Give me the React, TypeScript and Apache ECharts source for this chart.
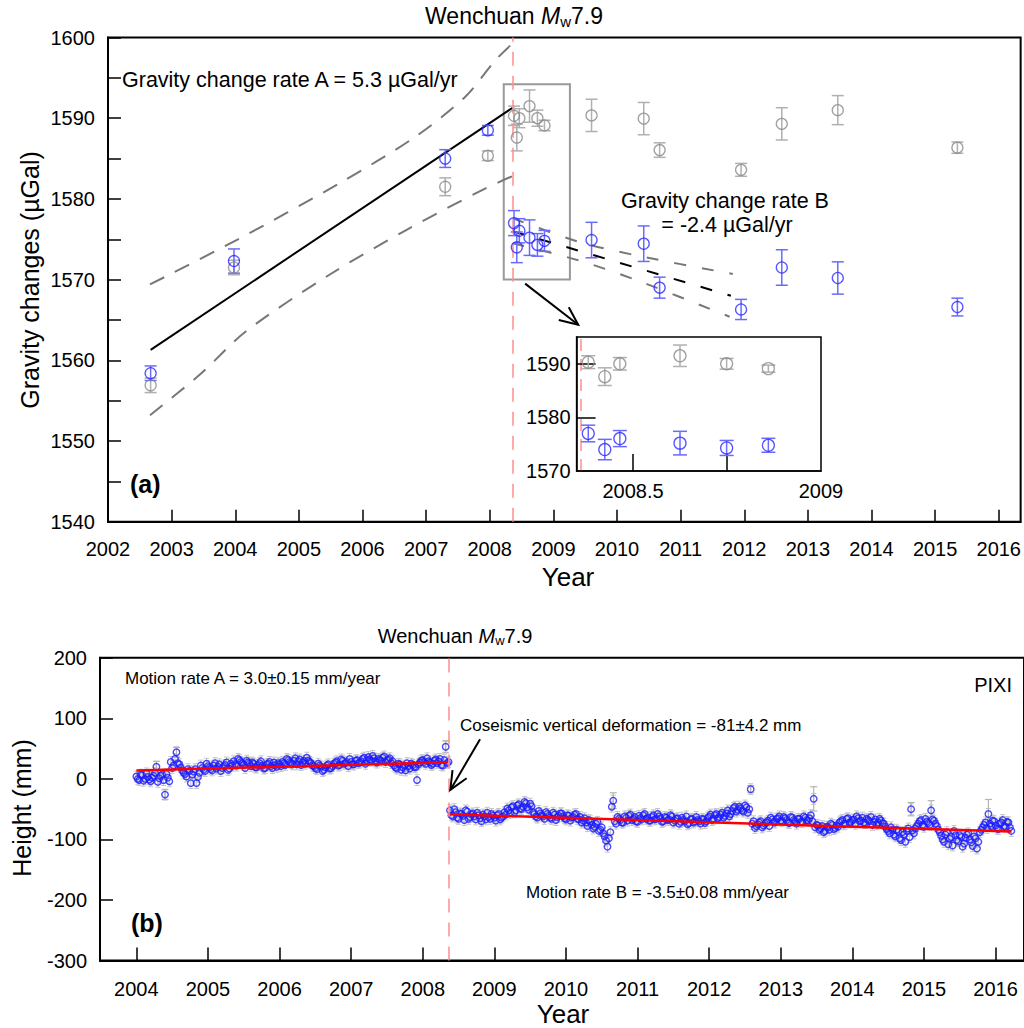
import React, { useEffect, useRef } from 'react';
import * as echarts from 'echarts';

const FONT = "'Liberation Sans', Arial, Helvetica, sans-serif";

// ---------- Panel (a): gravity changes ----------
const eqYear = 2008.36;
const topYears = [2002, 2003, 2004, 2005, 2006, 2007, 2008, 2009, 2010, 2011, 2012, 2013, 2014, 2015, 2016];
const gravityTicks = [1540, 1545, 1550, 1555, 1560, 1565, 1570, 1575, 1580, 1585, 1590, 1595, 1600];
const gravityLabels = [1540, 1550, 1560, 1570, 1580, 1590, 1600];

// [year, value (µGal), error]
const gravityBlue = [
  [2002.67, 1558.4, 0.9],
  [2003.98, 1572.3, 1.5],
  [2007.3, 1585.0, 1.1],
  [2007.97, 1588.5, 0.6],
  [2008.381, 1577.0, 1.55],
  [2008.425, 1574.0, 1.9],
  [2008.465, 1576.05, 1.5],
  [2008.625, 1575.2, 2.2],
  [2008.749, 1574.3, 1.4],
  [2008.86, 1574.8, 1.3],
  [2009.6, 1574.9, 2.2],
  [2010.42, 1574.45, 2.2],
  [2010.67, 1569.0, 1.3],
  [2011.95, 1566.3, 1.25],
  [2012.59, 1571.5, 2.2],
  [2013.47, 1570.2, 2.0],
  [2015.35, 1566.6, 1.1],
];
const gravityGray = [
  [2002.67, 1556.9, 0.9],
  [2003.98, 1571.5, 0.9],
  [2007.3, 1581.5, 1.1],
  [2007.97, 1585.35, 0.6],
  [2008.381, 1590.3, 1.2],
  [2008.425, 1587.6, 1.65],
  [2008.465, 1590.0, 1.17],
  [2008.625, 1591.5, 2.0],
  [2008.749, 1590.0, 1.0],
  [2008.86, 1589.1, 0.65],
  [2009.6, 1590.35, 2.0],
  [2010.42, 1589.95, 2.0],
  [2010.67, 1586.05, 0.9],
  [2011.95, 1583.6, 0.8],
  [2012.59, 1589.3, 2.0],
  [2013.47, 1591.0, 1.8],
  [2015.35, 1586.35, 0.7],
];

const fitA = [[2002.67, 1561.3], [2008.36, 1591.3]];
const bandAUpper = [[2002.66, 1569.4], [2004.02, 1574.9], [2005.63, 1581.9], [2006.83, 1587.7], [2007.62, 1592.7], [2008.09, 1597.2], [2008.35, 1599.2]];
const bandALower = [[2002.66, 1553.2], [2003.44, 1558.2], [2004.17, 1563.6], [2005.48, 1570.6], [2006.68, 1576.1], [2007.88, 1581.1], [2008.35, 1582.8]];
const fitB = [[2008.36, 1576.0], [2011.79, 1568.0]];
const bandBUpper = [[2008.36, 1577.6], [2009.39, 1574.7], [2010.3, 1573.0], [2011.82, 1570.7]];
const bandBLower = [[2008.36, 1574.5], [2009.39, 1572.4], [2010.3, 1569.95], [2011.77, 1565.4]];
const zoomBox = [[2008.22, 1594.2], [2009.26, 1570.0]];
const topArrow = [[2008.556, 1569.5, 2009.39, 1564.4]];

// inset
const insetXTicks = [2008.5, 2008.75];
const insetXLabels = [2008.5, 2009];
const insetYTicks = [1580, 1590];
const insetYLabels = [1570, 1580, 1590];

// ---------- Panel (b): GPS height, station PIXI ----------
const bottomYears = [2004, 2005, 2006, 2007, 2008, 2009, 2010, 2011, 2012, 2013, 2014, 2015, 2016];
const gpsStep = 0.04;
const gpsPreStart = 2004.0;
const gpsPre = [
  4, -2, 6, 0, 3, -4, 5, 20, 1, 7,
  -26, 2, 28, 22, 44, 24, 14, 8, 16, -7,
  12, -7, 10, 18, 13, 21, 16, 22, 17, 24,
  18, 23, 15, 25, 29, 22, 31, 26, 18, 27,
  21, 25, 19, 26, 22, 18, 25, 21, 27, 20,
  24, 28, 23, 31, 26, 30, 24, 32, 27, 25,
  30, 26, 21, 16, 22, 13, 19, 24, 18, 25,
  29, 23, 30, 26, 21, 28, 24, 31, 27, 33,
  25, 36, 30, 34, 27, 31, 35, 28, 32, 26,
  22, 17, 24, 19, 14, 21, 25, 20, -2, 27,
  31, 25, 29, 23, 30, 26, 33, 22, 53, 28,
];
const gpsPre2Start = 2004.02;
const gpsPre2 = [
  0, 7, -3, 9, -1, 2, 10, -5, 5, -2, 8, -4,
  18, 33, 26,
  19, 10, 4, 13, 7, 16, 3,
  22, 15, 25, 19, 14, 26, 20, 13, 21, 27, 17, 22,
  24, 33, 28, 23, 30, 25,
  27, 19, 23, 29, 17, 24, 28, 18, 23, 26, 21,
  26, 33, 28, 24, 34, 29, 23, 30, 35, 28, 22,
  18, 25, 20, 15, 22, 17, 21,
  27, 22, 32, 25, 28, 33, 24, 30, 26, 29, 35, 31,
  32, 38, 29, 33, 30, 37, 31, 34, 29,
  19, 25, 15, 22, 26, 17, 23, 19,
  24, 30, 28, 34, 27, 25, 32, 29, 23, 31, 26,
];
const gpsPostStart = 2008.38;
const gpsPost = [
  -52, -62, -55, -66, -58, -68, -54, -63, -57, -67,
  -60, -70, -62, -56, -66, -61, -69, -58, -64, -55,
  -49, -56, -45, -52, -42, -50, -38, -47, -41, -55,
  -62, -53, -60, -66, -58, -64, -56, -68, -61, -57,
  -65, -60, -69, -63, -58, -67, -72, -65, -78, -70,
  -82, -74, -86, -80, -95, -112, -88, -36, -74, -66,
  -72, -62, -69, -59, -66, -70, -61, -67, -58, -64,
  -69, -60, -66, -62, -71, -63, -68, -60, -72, -66,
  -74, -64, -70, -75, -67, -72, -63, -70, -66, -73,
  -64, -59, -66, -58, -63, -56, -61, -52, -58, -48,
  -54, -46, -52, -44, -56, -17, -70, -78, -72, -80,
  -74, -69, -64, -71, -66, -62, -70, -65, -72, -63,
  -68, -74, -66, -71, -64, -69, -60, -33, -76, -84,
  -78, -86, -80, -74, -83, -77, -72, -68, -74, -65,
  -71, -67, -62, -70, -64, -73, -68, -63, -71, -75,
  -66, -73, -79, -86, -80, -92, -84, -98, -88, -104,
  -82, -50, -90, -78, -70, -76, -66, -73, -52, -69,
  -78, -88, -100, -92, -108, -96, -86, -101, -93, -112,
  -97, -90, -105, -95, -115, -88, -80, -72, -58, -78,
  -70, -82, -74, -68, -79, -72, -86,
];
const gpsPost2Start = 2008.4;
const gpsPost2 = [
  -60, -50, -64, -57, -61, -52, -66, -59,
  -62, -56, -65, -59, -67, -63, -58, -64, -60, -67, -62, -59,
  -52, -47, -55, -44, -49, -46, -40, -51, -45,
  -58, -64, -57, -62, -55, -61, -66, -59, -63, -57, -62, -67, -61, -64, -59, -66, -63, -69,
  -72, -68, -76, -79, -71, -84, -90, -102, -98,
  -46, -70, -63, -68, -72, -64, -61, -68, -63, -71, -65, -60, -66, -69, -63, -67, -58, -65, -70, -64, -67, -62,
  -69, -65, -71, -68, -62, -73, -66, -70, -68, -74, -67, -70,
  -62, -68, -60, -65, -59, -64, -57, -62,
  -53, -46, -51, -49, -54, -47, -50,
  -74, -81, -75, -70, -77, -72, -78,
  -67, -72, -65, -69, -63, -68, -73, -64, -70, -66, -71, -62, -68, -65, -70,
  -80, -77, -82, -88, -79, -84, -76, -81, -79,
  -70, -75, -66, -72, -68, -74, -65, -69, -72, -66, -70, -76, -67, -72, -69, -74,
  -83, -90, -84, -95, -87, -101, -92, -86, -96, -85, -82,
  -74, -68, -79, -71, -76, -67, -74,
  -84, -94, -104, -88, -99, -110, -93, -103, -96, -107, -92, -100, -111, -98, -104,
  -84, -76, -81, -74, -69, -77, -83, -72, -78, -71, -80,
];
const gpsError = 9;
// [year, mm, error] for points with large error bars
const gpsBigErr = [
  [2004.28, 20, 9], [2004.4, -26, 8], [2004.56, 44, 8], [2008.32, 53, 10],
  [2010.66, -36, 13], [2012.58, -17, 6], [2013.46, -33, 20], [2014.82, -50, 11],
  [2015.1, -52, 16], [2015.9, -58, 24],
];
const fitGpsA = [[2004.0, 13.7], [2008.36, 27.6]];
const fitGpsB = [[2008.36, -58.4], [2016.22, -87.0]];
const bottomArrow = [[2008.8, 65.6, 2008.385, -18.2]];

// ---------- helpers ----------
const errorBar = (color: string, cap: number, width: number) => (params: any, api: any) => {
  const x = api.value(0);
  const y = api.value(1);
  const e = api.value(2);
  const t = api.coord([x, y + e]);
  const b = api.coord([x, y - e]);
  const st = { stroke: color, lineWidth: width };
  return {
    type: 'group',
    children: [
      { type: 'line', shape: { x1: t[0], y1: t[1], x2: b[0], y2: b[1] }, style: st },
      { type: 'line', shape: { x1: t[0] - cap, y1: t[1], x2: t[0] + cap, y2: t[1] }, style: st },
      { type: 'line', shape: { x1: b[0] - cap, y1: b[1], x2: b[0] + cap, y2: b[1] }, style: st },
    ],
  };
};

const arrowItem = (params: any, api: any) => {
  const p1 = api.coord([api.value(0), api.value(1)]);
  const p2 = api.coord([api.value(2), api.value(3)]);
  const ang = Math.atan2(p2[1] - p1[1], p2[0] - p1[0]);
  const L = 20;
  const a = 0.42;
  const h1 = [p2[0] - L * Math.cos(ang - a), p2[1] - L * Math.sin(ang - a)];
  const h2 = [p2[0] - L * Math.cos(ang + a), p2[1] - L * Math.sin(ang + a)];
  return {
    type: 'group',
    children: [
      { type: 'line', shape: { x1: p1[0], y1: p1[1], x2: p2[0], y2: p2[1] }, style: { stroke: '#000', lineWidth: 2 } },
      { type: 'polyline', shape: { points: [h1, p2, h2] }, style: { stroke: '#000', lineWidth: 2, fill: 'none' } },
    ],
  };
};

const eqMarkLine = {
  silent: true,
  symbol: ['none', 'none'],
  label: { show: false },
  lineStyle: { color: '#ff8f8f', type: [14, 10], width: 1.5 },
  data: [{ xAxis: eqYear }],
};

const fmt = (v: number) => String(v);

const valueAxis = (extra: any) => ({
  type: 'value',
  splitLine: { show: false },
  axisLine: { onZero: false, lineStyle: { color: '#000', width: 2 } },
  ...extra,
});

const titleText = (size: number, sub: number, pad: number) => ({
  text: '{n|Wenchuan }{i|M}{s|w}{n|7.9}', align: 'center', verticalAlign: 'middle',
  rich: {
    n: { fontSize: size, fontFamily: FONT, fill: '#000' },
    i: { fontSize: size, fontFamily: FONT, fontStyle: 'italic', fill: '#000' },
    s: { fontSize: sub, fontFamily: FONT, fill: '#000', verticalAlign: 'bottom', padding: [pad, 0, 0, 0] },
  },
});

export default function App() {
  const ref = useRef<HTMLDivElement>(null);

  useEffect(() => {
    document.body.style.margin = '0';
    const chart = echarts.init(ref.current!, null, { renderer: 'svg' });

    const toPts = (vals: number[], start: number) => vals.map((v, i) => [start + i * gpsStep, v]);
    const gpsPts = toPts(gpsPre, gpsPreStart)
      .concat(toPts(gpsPre2, gpsPre2Start))
      .concat(toPts(gpsPost, gpsPostStart))
      .concat(toPts(gpsPost2, gpsPost2Start));
    const gpsErrPts = gpsPts.map((p) => [p[0], p[1], gpsError]);
    const insetBlue = gravityBlue.filter((d) => d[0] >= 2008.35 && d[0] <= 2009);
    const insetGray = gravityGray.filter((d) => d[0] >= 2008.35 && d[0] <= 2009);

    const blue = '#2a2aff';
    const blueErr = '#6a6aff';
    const grayPt = '#8a8a8a';
    const grayErr = '#b0b0b0';

    const tickLabel = { fontSize: 20, color: '#000', fontFamily: FONT, formatter: fmt };

    const option: any = {
      animation: false,
      backgroundColor: '#fff',
      grid: [
        { left: 108, top: 37.5, width: 916.5, height: 484.2, show: true, borderColor: '#000', borderWidth: 2, backgroundColor: 'rgba(0,0,0,0)' },
        { left: 576.6, top: 337, width: 244.4, height: 134, show: true, borderColor: '#000', borderWidth: 1.5, backgroundColor: '#fff', z: 5 },
        { left: 100, top: 657.8, width: 924.4, height: 302.7, show: true, borderColor: '#000', borderWidth: 2, backgroundColor: 'rgba(0,0,0,0)' },
      ],
      xAxis: [
        valueAxis({
          gridIndex: 0, min: 2002, max: 2016.344,
          axisTick: { inside: true, length: 12, customValues: topYears, lineStyle: { color: '#000', width: 1.5 } },
          axisLabel: { ...tickLabel, customValues: topYears, margin: 17 },
        }),
        valueAxis({
          gridIndex: 1, min: 2008.35, max: 2009, z: 6,
          axisLine: { onZero: false, lineStyle: { color: '#000', width: 1.5 } },
          axisTick: { inside: true, length: 17, customValues: insetXTicks, lineStyle: { color: '#000', width: 1.5 } },
          axisLabel: { ...tickLabel, customValues: insetXLabels, margin: 10 },
        }),
        valueAxis({
          gridIndex: 2, min: 2003.492, max: 2016.397,
          axisTick: { inside: true, length: 13, customValues: bottomYears, lineStyle: { color: '#000', width: 1.5 } },
          axisLabel: { ...tickLabel, customValues: bottomYears, margin: 18 },
        }),
      ],
      yAxis: [
        valueAxis({
          gridIndex: 0, min: 1540, max: 1600, interval: 10,
          axisTick: { inside: true, length: 13, customValues: gravityTicks, lineStyle: { color: '#000', width: 1.5 } },
          axisLabel: { ...tickLabel, customValues: gravityLabels, margin: 13 },
        }),
        valueAxis({
          gridIndex: 1, min: 1570, max: 1595, z: 6,
          axisLine: { onZero: false, lineStyle: { color: '#000', width: 1.5 } },
          axisTick: { inside: true, length: 19, customValues: insetYTicks, lineStyle: { color: '#000', width: 1.5 } },
          axisLabel: { ...tickLabel, customValues: insetYLabels, margin: 6 },
        }),
        valueAxis({
          gridIndex: 2, min: -300, max: 200, interval: 100,
          axisTick: { inside: true, length: 13, lineStyle: { color: '#000', width: 1.5 } },
          axisLabel: { ...tickLabel, margin: 13 },
        }),
      ],
      series: [
        // ----- panel (a)
        {
          type: 'line', name: 'fitA', xAxisIndex: 0, yAxisIndex: 0, data: fitA, symbol: 'none',
          lineStyle: { color: '#000', width: 2 }, z: 3,
          markLine: eqMarkLine,
          markArea: {
            silent: true,
            itemStyle: { color: 'rgba(0,0,0,0)', borderColor: '#999', borderWidth: 2 },
            data: [[{ coord: zoomBox[0] }, { coord: zoomBox[1] }]],
          },
        },
        { type: 'line', xAxisIndex: 0, yAxisIndex: 0, data: bandAUpper, symbol: 'none', smooth: 0.3, lineStyle: { color: '#777', width: 2, type: [16, 12] } },
        { type: 'line', xAxisIndex: 0, yAxisIndex: 0, data: bandALower, symbol: 'none', smooth: 0.3, lineStyle: { color: '#777', width: 2, type: [16, 12] } },
        { type: 'line', xAxisIndex: 0, yAxisIndex: 0, data: fitB, symbol: 'none', lineStyle: { color: '#000', width: 2, type: [12, 16] } },
        { type: 'line', xAxisIndex: 0, yAxisIndex: 0, data: bandBUpper, symbol: 'none', smooth: 0.3, lineStyle: { color: '#777', width: 2, type: [12, 16] } },
        { type: 'line', xAxisIndex: 0, yAxisIndex: 0, data: bandBLower, symbol: 'none', smooth: 0.3, lineStyle: { color: '#777', width: 2, type: [12, 16] } },
        { type: 'custom', xAxisIndex: 0, yAxisIndex: 0, data: gravityGray, renderItem: errorBar(grayErr, 6, 1.5), encode: { x: 0, y: 1 }, z: 4 },
        { type: 'custom', xAxisIndex: 0, yAxisIndex: 0, data: gravityBlue, renderItem: errorBar(blueErr, 6, 1.5), encode: { x: 0, y: 1 }, z: 4 },
        { type: 'scatter', xAxisIndex: 0, yAxisIndex: 0, data: gravityGray.map((d) => [d[0], d[1]]), symbol: 'circle', symbolSize: 11, itemStyle: { color: 'rgba(0,0,0,0)', borderColor: grayPt, borderWidth: 1.3 }, z: 5 },
        { type: 'scatter', xAxisIndex: 0, yAxisIndex: 0, data: gravityBlue.map((d) => [d[0], d[1]]), symbol: 'circle', symbolSize: 11, itemStyle: { color: 'rgba(0,0,0,0)', borderColor: blue, borderWidth: 1.3 }, z: 5 },
        { type: 'custom', xAxisIndex: 0, yAxisIndex: 0, data: topArrow, renderItem: arrowItem, encode: { x: 0, y: 1 }, z: 6 },
        // ----- inset
        { type: 'custom', xAxisIndex: 1, yAxisIndex: 1, data: insetGray, renderItem: errorBar(grayErr, 7, 1.5), encode: { x: 0, y: 1 }, z: 7, markLine: { ...eqMarkLine, lineStyle: { ...eqMarkLine.lineStyle, type: [12, 8] } } },
        { type: 'custom', xAxisIndex: 1, yAxisIndex: 1, data: insetBlue, renderItem: errorBar(blueErr, 7, 1.5), encode: { x: 0, y: 1 }, z: 7 },
        { type: 'scatter', xAxisIndex: 1, yAxisIndex: 1, data: insetGray.map((d) => [d[0], d[1]]), symbol: 'circle', symbolSize: 12, itemStyle: { color: 'rgba(0,0,0,0)', borderColor: grayPt, borderWidth: 1.3 }, z: 8 },
        { type: 'scatter', xAxisIndex: 1, yAxisIndex: 1, data: insetBlue.map((d) => [d[0], d[1]]), symbol: 'circle', symbolSize: 12, itemStyle: { color: 'rgba(0,0,0,0)', borderColor: blue, borderWidth: 1.3 }, z: 8 },
        // ----- panel (b)
        { type: 'custom', xAxisIndex: 2, yAxisIndex: 2, data: gpsErrPts, renderItem: errorBar('#c4c4c4', 2.5, 1), encode: { x: 0, y: 1 }, z: 2, markLine: eqMarkLine },
        { type: 'custom', xAxisIndex: 2, yAxisIndex: 2, data: gpsBigErr, renderItem: errorBar('#b4b4b4', 3.5, 1.2), encode: { x: 0, y: 1 }, z: 2 },
        { type: 'scatter', xAxisIndex: 2, yAxisIndex: 2, data: gpsPts, symbol: 'circle', symbolSize: 6.5, itemStyle: { color: 'rgba(0,0,0,0)', borderColor: '#1c1cff', borderWidth: 1.4 }, z: 3 },
        { type: 'line', xAxisIndex: 2, yAxisIndex: 2, data: fitGpsA, symbol: 'none', lineStyle: { color: '#ff0000', width: 2.5 }, z: 4 },
        { type: 'line', xAxisIndex: 2, yAxisIndex: 2, data: fitGpsB, symbol: 'none', lineStyle: { color: '#ff0000', width: 2.5 }, z: 4 },
        { type: 'custom', xAxisIndex: 2, yAxisIndex: 2, data: bottomArrow, renderItem: arrowItem, encode: { x: 0, y: 1 }, z: 6 },
      ],
      graphic: [
        { type: 'text', x: 514, y: 16, style: titleText(23, 15, 10) },
        { type: 'text', x: 122, y: 80, style: { text: 'Gravity change rate A = 5.3 µGal/yr', fontSize: 21.5, fontFamily: FONT, fill: '#000', verticalAlign: 'middle' } },
        { type: 'text', x: 621, y: 201, style: { text: 'Gravity change rate B', fontSize: 21.5, fontFamily: FONT, fill: '#000', verticalAlign: 'middle' } },
        { type: 'text', x: 727, y: 225, style: { text: '= -2.4 µGal/yr', fontSize: 21.5, fontFamily: FONT, fill: '#000', align: 'center', verticalAlign: 'middle' } },
        { type: 'text', x: 130, y: 484, style: { text: '(a)', fontSize: 25, fontWeight: 'bold', fontFamily: FONT, fill: '#000', verticalAlign: 'middle' } },
        { type: 'text', x: 568, y: 577, style: { text: 'Year', fontSize: 26, fontFamily: FONT, fill: '#000', align: 'center', verticalAlign: 'middle' } },
        { type: 'text', x: 30, y: 280, rotation: Math.PI / 2, style: { text: 'Gravity changes (µGal)', fontSize: 25, fontFamily: FONT, fill: '#000', align: 'center', verticalAlign: 'middle' } },
        { type: 'text', x: 455, y: 636, style: titleText(20, 13, 9) },
        { type: 'text', x: 125, y: 678, style: { text: 'Motion rate A = 3.0±0.15 mm/year', fontSize: 17, fontFamily: FONT, fill: '#000', verticalAlign: 'middle' } },
        { type: 'text', x: 1012, y: 685, style: { text: 'PIXI', fontSize: 20, fontFamily: FONT, fill: '#000', align: 'right', verticalAlign: 'middle' } },
        { type: 'text', x: 460, y: 725, style: { text: 'Coseismic vertical deformation = -81±4.2 mm', fontSize: 17, fontFamily: FONT, fill: '#000', verticalAlign: 'middle' } },
        { type: 'text', x: 526, y: 892, style: { text: 'Motion rate B = -3.5±0.08 mm/year', fontSize: 17, fontFamily: FONT, fill: '#000', verticalAlign: 'middle' } },
        { type: 'text', x: 131, y: 923, style: { text: '(b)', fontSize: 25, fontWeight: 'bold', fontFamily: FONT, fill: '#000', verticalAlign: 'middle' } },
        { type: 'text', x: 563, y: 1014, style: { text: 'Year', fontSize: 26, fontFamily: FONT, fill: '#000', align: 'center', verticalAlign: 'middle' } },
        { type: 'text', x: 22, y: 808, rotation: Math.PI / 2, style: { text: 'Height (mm)', fontSize: 25, fontFamily: FONT, fill: '#000', align: 'center', verticalAlign: 'middle' } },
      ],
    };

    chart.setOption(option);
    return () => chart.dispose();
  }, []);

  return <div ref={ref} style={{ position: 'absolute', left: 0, top: 0, width: 1024, height: 1028, background: '#fff' }} />;
}
